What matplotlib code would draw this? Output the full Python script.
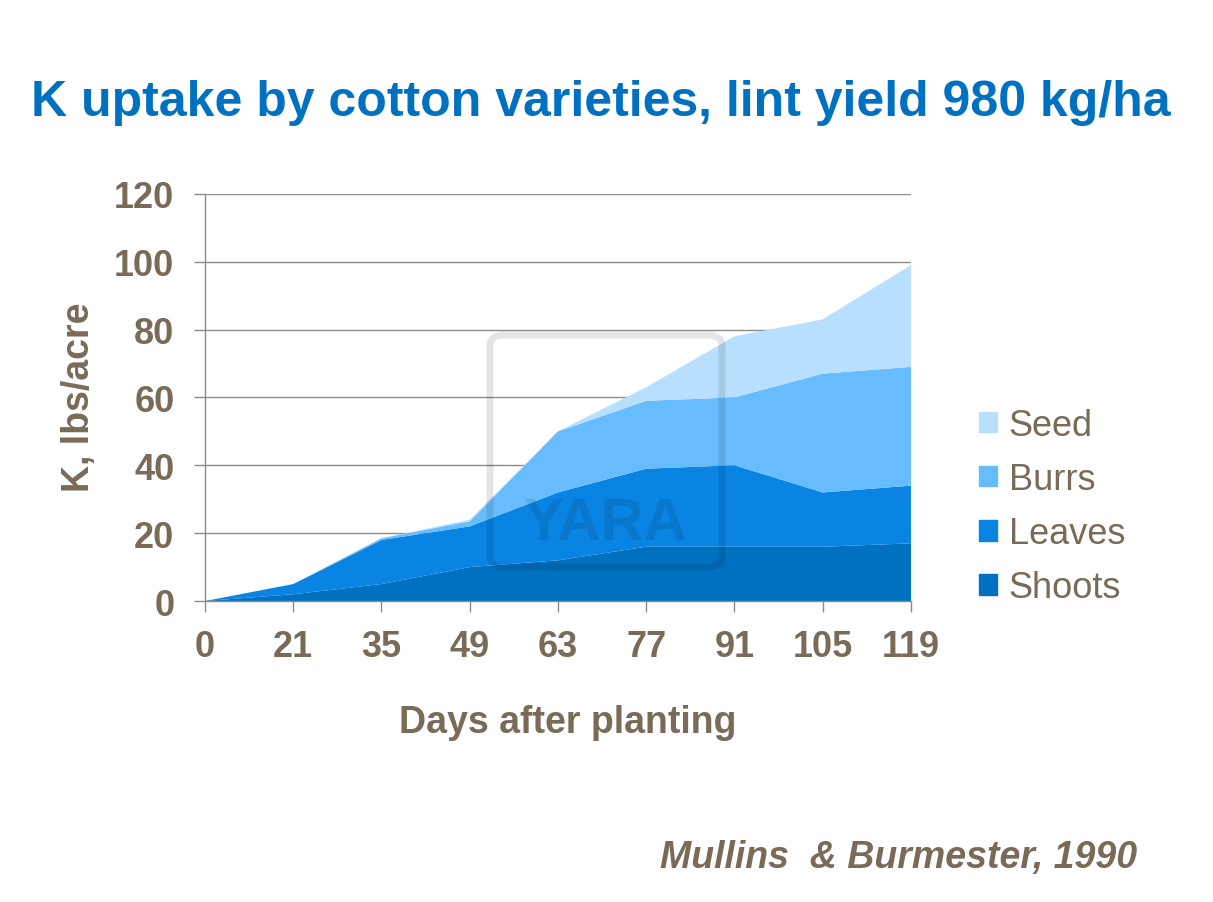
import numpy as np
import matplotlib.pyplot as plt
from matplotlib.patches import Rectangle, FancyBboxPatch

# valeurs (K, lbs/acre)
days = ['0', '21', '35', '49', '63', '77', '91', '105', '119']
shoots = [0, 2, 5, 10, 12, 16, 16, 16, 17]
leaves = [0, 3, 13, 12, 20, 23, 24, 16, 17]
burrs = [0, 0, 0.5, 1.5, 18, 20, 20, 35, 35]
seed = [0, 0, 0, 0.5, 0, 4, 18, 16, 30]
names = ['Shoots', 'Leaves', 'Burrs', 'Seed']
colors = ['#0070C0', '#0A84E2', '#66BCFC', '#B8DFFD']

brown = '#7A6A58'
plt.rcParams['font.family'] = ['Liberation Sans', 'DejaVu Sans']

W, H = 1213, 903
fig = plt.figure(figsize=(12.13, 9.03), dpi=100)
ax = fig.add_axes([0.169, 0.3333, 0.582, 0.451])

x = np.arange(len(days))
ax.stackplot(x, shoots, leaves, burrs, seed, colors=colors, linewidth=0, zorder=2)

ax.set_xlim(0, len(days) - 1)
ax.set_ylim(0, 120)
ax.set_yticks(np.arange(0, 121, 20))
ax.set_xticks(x)
ax.set_xticklabels(days)
ax.yaxis.grid(True, color='#8C8C8C', linewidth=1.0, zorder=1)
ax.set_axisbelow(True)
for s in ['top', 'right']:
    ax.spines[s].set_visible(False)
for s in ['left', 'bottom']:
    ax.spines[s].set_color('#8C8C8C')
    ax.spines[s].set_linewidth(1.0)
ax.tick_params(axis='both', colors='#8C8C8C', length=8, width=1.0,
               labelcolor=brown, labelsize=26)
ax.tick_params(axis='y', pad=14)
ax.tick_params(axis='x', pad=12)
for lab in ax.get_xticklabels() + ax.get_yticklabels():
    lab.set_fontweight('bold')

ax.set_xlabel('Days after planting', fontsize=27, fontweight='bold', color=brown)
ax.set_ylabel('K, lbs/acre', fontsize=27, fontweight='bold', color=brown)
ax.xaxis.set_label_coords(0.514, -0.252)
ax.yaxis.set_label_coords(-0.153, 0.504)

# filigrane (logo) en gris transparent
box = FancyBboxPatch((490 / W, 1 - 568 / H), 232 / W, 232 / H,
                     boxstyle='round,pad=0,rounding_size=0.012', transform=fig.transFigure,
                     facecolor='none', edgecolor='black', alpha=0.1, linewidth=5, zorder=5)
fig.patches.append(box)
fig.text(605 / W, 1 - 525 / H, 'YARA', ha='center', va='center', fontsize=43,
         fontweight='bold', color='black', alpha=0.1, zorder=5)

# legende (ordre inverse comme sur l'original)
handles = [Rectangle((0, 0), 1, 1, color=c) for c in colors[::-1]]
leg = fig.legend(handles, names[::-1], loc='center left', bbox_to_anchor=(0.807, 0.438),
                 frameon=False, fontsize=26, handlelength=0.5, handleheight=0.5,
                 handletextpad=0.33, labelspacing=0.53, borderpad=0, borderaxespad=0)
for t in leg.get_texts():
    t.set_color(brown)

fig.text(0.495, 1 - 103 / H, 'K uptake by cotton varieties, lint yield 980 kg/ha', ha='center', va='center',
         fontsize=36, fontweight='bold', color='#0070C0')
fig.text(1137 / W, 1 - 858 / H, 'Mullins  & Burmester, 1990', ha='right', va='center',
         fontsize=27, fontweight='bold', style='italic', color=brown)

fig.savefig('out.png', dpi=100, facecolor='white')
